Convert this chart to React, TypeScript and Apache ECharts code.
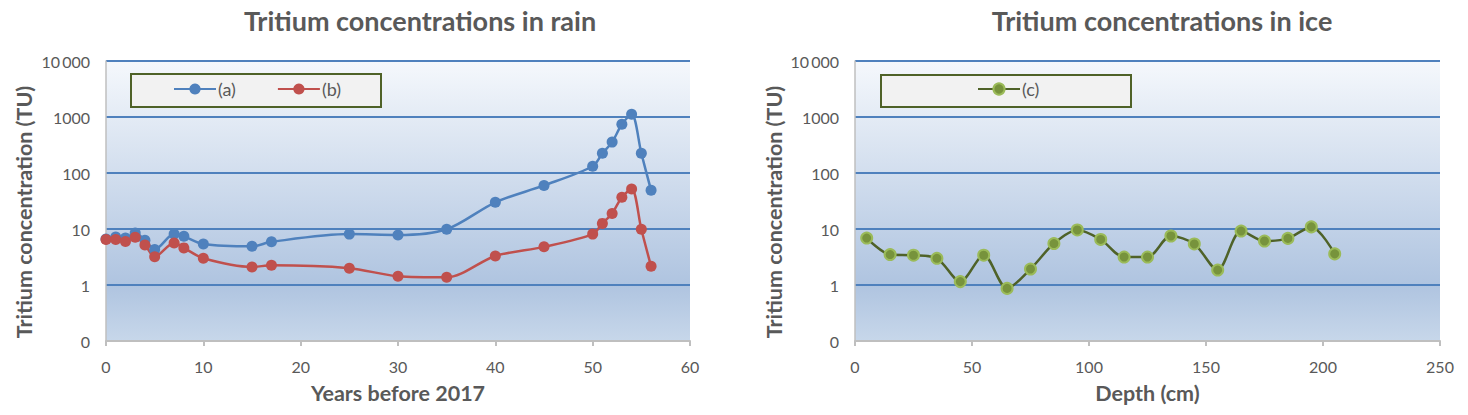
import React, { useEffect, useRef } from "react";
import * as echarts from "echarts";

const yearsAB = [0, 1, 2, 3, 4, 5, 7, 8, 10, 15, 17, 25, 30, 35, 40, 45, 50, 51, 52, 53, 54, 55, 56];
const seriesA = [6.6, 7.2, 6.9, 8.5, 6.3, 4.3, 8.1, 7.4, 5.4, 4.9, 5.9, 8.1, 7.8, 9.9, 30, 60, 132, 225, 356, 740, 1120, 225, 49];
const seriesB = [6.5, 6.5, 6.0, 7.1, 5.2, 3.2, 5.6, 4.6, 3.0, 2.1, 2.25, 2.0, 1.43, 1.37, 3.3, 4.8, 8.1, 12.6, 19, 37, 52, 9.9, 2.16];
const depthC = [5, 15, 25, 35, 45, 55, 65, 75, 85, 95, 105, 115, 125, 135, 145, 155, 165, 175, 185, 195, 205];
const seriesC = [6.9, 3.5, 3.4, 3.0, 1.15, 3.4, 0.87, 1.93, 5.5, 9.6, 6.5, 3.16, 3.16, 7.5, 5.4, 1.85, 9.2, 6.1, 6.8, 10.9, 3.6];

const titles = ["Tritium concentrations in rain", "Tritium concentrations in ice"];
const xNames = ["Years before 2017", "Depth (cm)"];
const yName = "Tritium concentration (TU)";

const FONT = "Lato";
const TXT = "#595959";

function zip(xs: number[], ys: number[]) {
  return xs.map((x, i) => [x, ys[i]]);
}

export default function App() {
  const ref = useRef<HTMLDivElement>(null);
  useEffect(() => {
    if (!ref.current) return;
    const chart = echarts.init(ref.current, null, { renderer: "svg" });
    const bg = new echarts.graphic.LinearGradient(0, 0, 0, 1, [
      { offset: 0, color: "#F5F8FC" },
      { offset: 0.8, color: "#AFC4E0" },
      { offset: 1, color: "#C7D7EA" },
    ]);
    const yLabel = (v: number) => {
      if (v < 0.5) return "0";
      const r = Math.round(v);
      if (r === 10000) return "10\u2009000";
      return String(r);
    };
    const yAxis = (gi: number) => ({
      type: "log",
      logBase: 10,
      min: 0.1,
      max: 10000,
      gridIndex: gi,
      axisLine: { show: true, lineStyle: { color: "#BFBFBF", width: 1.5 } },
      axisTick: { show: false },
      axisLabel: { formatter: yLabel, color: TXT, fontFamily: FONT, fontSize: 16, margin: 16 },
      splitLine: {
        show: true,
        lineStyle: { color: ["rgba(0,0,0,0)", "#4F81BD", "#4F81BD", "#4F81BD", "#4F81BD", "#4F81BD"], width: 2 },
      },
    });
    const xAxis = (gi: number, max: number, interval: number, name: string) => ({
      type: "value",
      gridIndex: gi,
      min: 0,
      max,
      interval,
      name,
      nameLocation: "middle",
      nameGap: 41,
      nameTextStyle: { color: TXT, fontFamily: FONT, fontSize: 21.5, fontWeight: "bold" },
      axisLine: { show: true, lineStyle: { color: "#BFBFBF", width: 2 } },
      axisTick: { show: true, length: 5, lineStyle: { color: "#BFBFBF", width: 2 } },
      axisLabel: { color: TXT, fontFamily: FONT, fontSize: 16, margin: 17 },
      splitLine: { show: false },
    });
    const option = {
      animation: false,
      backgroundColor: "#FFFFFF",
      title: [
        { text: titles[0], left: 415, top: 2, textAlign: "center", textStyle: { color: TXT, fontFamily: FONT, fontSize: 27, fontWeight: "bold" } },
        { text: titles[1], left: 1157, top: 2, textAlign: "center", textStyle: { color: TXT, fontFamily: FONT, fontSize: 27, fontWeight: "bold" } },
      ],
      grid: [
        { left: 106, top: 61, width: 584, height: 280, show: true, backgroundColor: bg, borderWidth: 0 },
        { left: 855, top: 61, width: 585, height: 280, show: true, backgroundColor: bg, borderWidth: 0 },
      ],
      xAxis: [xAxis(0, 60, 10, xNames[0]), xAxis(1, 250, 50, xNames[1])],
      yAxis: [yAxis(0), yAxis(1)],
      legend: [
        {
          data: ["(a)", "(b)"],
          left: 173,
          top: 80,
          padding: 0,
          itemWidth: 42,
          itemHeight: 14,
          itemGap: 41,
          textStyle: { color: TXT, fontFamily: FONT, fontSize: 18, padding: [0, 0, 0, -3] },
        },
        {
          data: ["(c)"],
          left: 977,
          top: 80,
          padding: 0,
          itemWidth: 42,
          itemHeight: 14,
          textStyle: { color: TXT, fontFamily: FONT, fontSize: 18, padding: [0, 0, 0, -3] },
        },
      ],
      graphic: [
        { type: "rect", z: 1, shape: { x: 131, y: 74, width: 250, height: 33 }, style: { fill: "#F2F2F2", stroke: "#4F6228", lineWidth: 2 } },
        { type: "rect", z: 1, shape: { x: 881, y: 75, width: 250, height: 32 }, style: { fill: "#F2F2F2", stroke: "#4F6228", lineWidth: 2 } },
        {
          type: "text", x: 24, y: 212, rotation: Math.PI / 2,
          style: { text: yName, align: "center", verticalAlign: "middle", fill: TXT, font: `bold 21.5px ${FONT}` },
        },
        {
          type: "text", x: 774, y: 212, rotation: Math.PI / 2,
          style: { text: yName, align: "center", verticalAlign: "middle", fill: TXT, font: `bold 21.5px ${FONT}` },
        },
      ],
      series: [
        {
          name: "(a)", type: "line", xAxisIndex: 0, yAxisIndex: 0, data: zip(yearsAB, seriesA),
          smooth: 0.3, symbol: "circle", symbolSize: 11,
          lineStyle: { color: "#4F81BD", width: 2.5 }, itemStyle: { color: "#4F81BD" },
        },
        {
          name: "(b)", type: "line", xAxisIndex: 0, yAxisIndex: 0, data: zip(yearsAB, seriesB),
          smooth: 0.3, symbol: "circle", symbolSize: 11,
          lineStyle: { color: "#C0504D", width: 2.5 }, itemStyle: { color: "#C0504D" },
        },
        {
          name: "(c)", type: "line", xAxisIndex: 1, yAxisIndex: 1, data: zip(depthC, seriesC),
          smooth: 0.3, symbol: "circle", symbolSize: 11,
          lineStyle: { color: "#4F6228", width: 2.5 },
          itemStyle: { color: "#77933C", borderColor: "#9BBB59", borderWidth: 2 },
        },
      ],
    };
    chart.setOption(option as any);
    return () => chart.dispose();
  }, []);
  return <div ref={ref} style={{ position: "absolute", left: 0, top: 0, width: 1468, height: 415 }} />;
}
